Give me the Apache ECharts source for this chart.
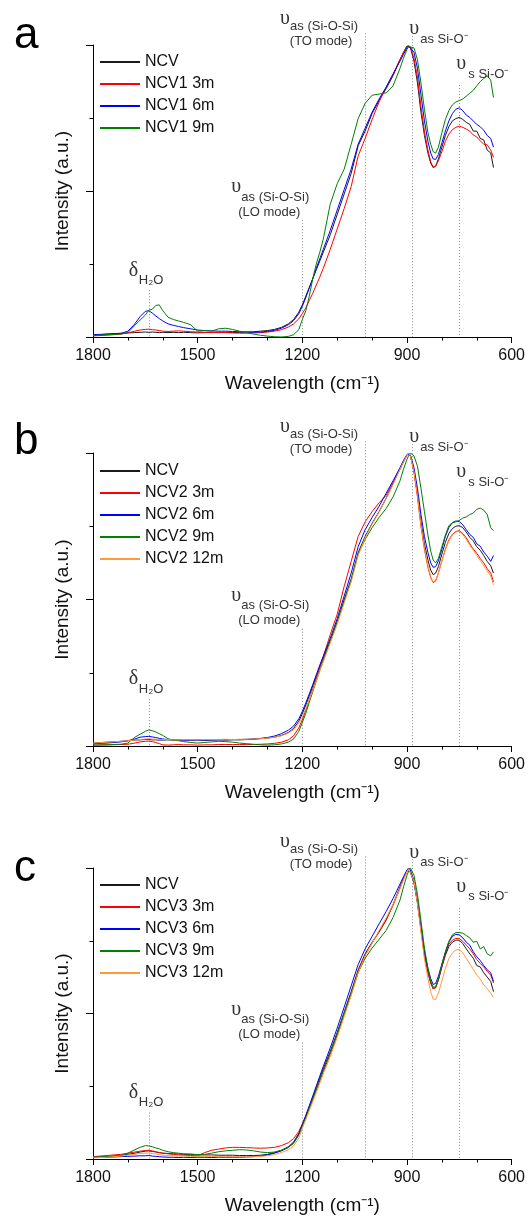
<!DOCTYPE html>
<html><head><meta charset="utf-8">
<script src="https://cdn.jsdelivr.net/npm/echarts@6/dist/echarts.min.js"></script>
<style>html,body{margin:0;padding:0;background:#fff}#c{width:528px;height:1216px}</style>
</head><body><div id="c"></div>
<script>
// wavenumber grid (cm-1)
const wn = [1800,1760,1720,1700,1680,1665,1650,1640,1630,1620,
1610,1600,1585,1570,1555,1540,1520,1500,1480,1460,
1440,1420,1400,1380,1360,1340,1320,1300,1280,1260,
1240,1225,1210,1200,1190,1180,1170,1160,1150,1140,
1120,1100,1080,1060,1040,1020,1000,980,960,940,
920,910,900,895,890,880,870,860,850,840,
832,825,818,810,800,790,780,770,760,750,
740,730,720,710,700,690,680,670,660,652];

// Panel a
const aNCV = [0.006,0.010,0.013,0.014,0.015,0.016,0.017,0.016,0.017,0.016,
0.015,0.016,0.015,0.016,0.015,0.016,0.015,0.014,0.015,0.016,
0.015,0.016,0.015,0.016,0.017,0.018,0.020,0.022,0.026,0.033,
0.045,0.060,0.085,0.110,0.140,0.170,0.200,0.230,0.260,0.290,
0.350,0.420,0.490,0.560,0.655,0.705,0.765,0.810,0.850,0.895,
0.950,0.975,0.997,1.000,0.990,0.945,0.870,0.770,0.690,0.630,
0.595,0.580,0.585,0.610,0.650,0.690,0.720,0.740,0.748,0.752,
0.745,0.735,0.728,0.705,0.705,0.680,0.675,0.640,0.630,0.580];
const aNCV1_3m = [0.004,0.006,0.010,0.014,0.020,0.024,0.026,0.027,0.025,0.024,
0.022,0.020,0.019,0.020,0.021,0.020,0.018,0.017,0.016,0.015,
0.016,0.015,0.014,0.013,0.013,0.014,0.015,0.017,0.020,0.025,
0.034,0.045,0.062,0.080,0.100,0.125,0.150,0.178,0.205,0.235,
0.300,0.370,0.440,0.515,0.620,0.680,0.745,0.805,0.855,0.900,
0.950,0.975,0.995,1.000,0.993,0.955,0.890,0.790,0.705,0.640,
0.600,0.582,0.585,0.603,0.635,0.670,0.695,0.710,0.718,0.722,
0.718,0.712,0.705,0.692,0.685,0.672,0.660,0.658,0.640,0.615];
const aNCV1_6m = [0.008,0.010,0.012,0.020,0.045,0.070,0.088,0.090,0.082,0.072,
0.063,0.055,0.045,0.040,0.036,0.032,0.028,0.024,0.022,0.021,
0.020,0.020,0.019,0.018,0.017,0.016,0.017,0.019,0.023,0.030,
0.042,0.056,0.080,0.105,0.135,0.168,0.200,0.235,0.268,0.300,
0.365,0.435,0.505,0.575,0.660,0.715,0.770,0.815,0.855,0.900,
0.945,0.968,0.990,0.998,1.000,0.975,0.920,0.830,0.740,0.670,
0.630,0.610,0.608,0.625,0.665,0.705,0.740,0.765,0.780,0.785,
0.775,0.760,0.752,0.740,0.728,0.720,0.708,0.690,0.680,0.650];
const aNCV1_9m = [0.005,0.008,0.010,0.015,0.040,0.058,0.075,0.092,0.095,0.108,
0.110,0.090,0.068,0.060,0.055,0.050,0.042,0.020,0.022,0.020,
0.028,0.030,0.026,0.020,0.015,0.010,0.006,0.003,0.001,0.000,
0.002,0.008,0.025,0.060,0.090,0.140,0.200,0.250,0.290,0.335,
0.455,0.525,0.575,0.660,0.748,0.800,0.828,0.832,0.836,0.860,
0.920,0.955,0.985,0.995,1.000,0.990,0.950,0.870,0.780,0.700,
0.660,0.635,0.630,0.650,0.700,0.745,0.775,0.795,0.805,0.810,
0.815,0.825,0.835,0.845,0.860,0.875,0.885,0.895,0.880,0.820];

// Panel b
const bNCV = [0.010,0.013,0.016,0.018,0.020,0.021,0.022,0.022,0.021,0.021,
0.020,0.020,0.021,0.020,0.020,0.021,0.020,0.020,0.019,0.020,
0.021,0.020,0.021,0.021,0.022,0.023,0.025,0.027,0.030,0.036,
0.046,0.060,0.085,0.110,0.140,0.172,0.205,0.238,0.270,0.300,
0.360,0.425,0.500,0.570,0.660,0.715,0.760,0.800,0.845,0.895,
0.945,0.970,0.993,1.000,0.990,0.940,0.860,0.765,0.690,0.635,
0.600,0.585,0.590,0.612,0.655,0.695,0.725,0.742,0.750,0.752,
0.745,0.730,0.712,0.700,0.680,0.668,0.650,0.630,0.615,0.590];
const bNCV2_3m = [0.003,0.004,0.005,0.006,0.010,0.014,0.016,0.017,0.015,0.012,
0.008,0.004,0.003,0.004,0.005,0.004,0.004,0.003,0.004,0.004,
0.005,0.005,0.005,0.005,0.005,0.005,0.006,0.007,0.009,0.013,
0.021,0.035,0.062,0.090,0.122,0.158,0.195,0.232,0.270,0.305,
0.380,0.450,0.545,0.630,0.715,0.765,0.800,0.830,0.855,0.900,
0.948,0.972,0.993,1.000,0.990,0.935,0.850,0.750,0.672,0.610,
0.575,0.558,0.563,0.590,0.632,0.672,0.703,0.722,0.732,0.735,
0.725,0.710,0.690,0.672,0.658,0.640,0.625,0.605,0.590,0.560];
const bNCV2_6m = [0.008,0.010,0.014,0.018,0.024,0.030,0.032,0.033,0.031,0.029,
0.026,0.024,0.022,0.021,0.020,0.020,0.019,0.020,0.020,0.021,
0.021,0.022,0.022,0.022,0.023,0.024,0.026,0.029,0.034,0.042,
0.054,0.068,0.093,0.118,0.147,0.178,0.210,0.243,0.276,0.306,
0.367,0.435,0.512,0.590,0.680,0.738,0.780,0.818,0.862,0.905,
0.950,0.975,0.995,1.000,0.993,0.950,0.880,0.790,0.715,0.660,
0.625,0.610,0.612,0.632,0.672,0.715,0.745,0.762,0.768,0.766,
0.755,0.738,0.722,0.712,0.690,0.682,0.662,0.648,0.630,0.650];
const bNCV2_9m = [0.003,0.004,0.006,0.010,0.030,0.040,0.050,0.055,0.052,0.048,
0.042,0.036,0.025,0.020,0.018,0.015,0.012,0.010,0.012,0.014,
0.016,0.015,0.013,0.010,0.008,0.006,0.004,0.003,0.004,0.007,
0.013,0.024,0.050,0.080,0.112,0.150,0.185,0.222,0.258,0.292,
0.360,0.425,0.495,0.565,0.655,0.705,0.745,0.780,0.810,0.850,
0.905,0.945,0.978,0.992,1.000,0.990,0.955,0.880,0.800,0.720,
0.665,0.635,0.625,0.640,0.680,0.720,0.752,0.762,0.765,0.770,
0.778,0.782,0.790,0.795,0.808,0.812,0.805,0.790,0.745,0.735];
const bNCV2_12m = [0.010,0.013,0.016,0.018,0.020,0.022,0.024,0.025,0.024,0.023,
0.022,0.022,0.022,0.021,0.021,0.022,0.021,0.021,0.022,0.022,
0.022,0.023,0.022,0.023,0.023,0.024,0.025,0.027,0.030,0.035,
0.044,0.055,0.078,0.100,0.128,0.158,0.190,0.222,0.255,0.287,
0.350,0.415,0.488,0.560,0.650,0.710,0.757,0.798,0.843,0.893,
0.945,0.970,0.993,1.000,0.990,0.937,0.855,0.755,0.675,0.615,
0.578,0.560,0.566,0.590,0.632,0.670,0.700,0.720,0.730,0.733,
0.722,0.705,0.685,0.668,0.650,0.633,0.615,0.598,0.580,0.550];

// Panel c
const cNCV = [0.006,0.008,0.012,0.016,0.020,0.024,0.027,0.028,0.026,0.024,
0.022,0.020,0.019,0.018,0.017,0.016,0.016,0.014,0.014,0.014,
0.013,0.013,0.013,0.012,0.012,0.012,0.013,0.016,0.022,0.030,
0.042,0.058,0.088,0.118,0.148,0.180,0.212,0.245,0.278,0.310,
0.370,0.435,0.505,0.575,0.650,0.705,0.745,0.780,0.820,0.875,
0.935,0.965,0.990,1.000,0.995,0.950,0.880,0.790,0.700,0.640,
0.605,0.585,0.590,0.615,0.660,0.700,0.730,0.745,0.752,0.752,
0.740,0.722,0.705,0.690,0.665,0.660,0.640,0.625,0.610,0.575];
const cNCV3_3m = [0.008,0.012,0.016,0.020,0.024,0.027,0.029,0.030,0.028,0.025,
0.022,0.020,0.018,0.016,0.014,0.013,0.012,0.011,0.022,0.030,
0.034,0.038,0.040,0.040,0.039,0.038,0.037,0.038,0.040,0.046,
0.056,0.070,0.095,0.120,0.146,0.175,0.205,0.237,0.268,0.300,
0.360,0.425,0.495,0.565,0.645,0.700,0.742,0.782,0.822,0.872,
0.930,0.962,0.988,0.998,1.000,0.960,0.890,0.800,0.710,0.645,
0.605,0.585,0.588,0.615,0.662,0.705,0.738,0.752,0.758,0.758,
0.748,0.735,0.722,0.705,0.685,0.672,0.660,0.645,0.632,0.605];
const cNCV3_6m = [0.005,0.006,0.008,0.009,0.010,0.011,0.011,0.012,0.010,0.009,
0.008,0.007,0.006,0.006,0.005,0.006,0.005,0.006,0.006,0.005,
0.006,0.006,0.006,0.006,0.007,0.008,0.010,0.014,0.020,0.028,
0.040,0.056,0.086,0.118,0.150,0.183,0.217,0.251,0.285,0.318,
0.382,0.450,0.522,0.595,0.668,0.722,0.765,0.808,0.850,0.895,
0.945,0.970,0.993,1.000,0.993,0.952,0.883,0.795,0.712,0.655,
0.620,0.600,0.603,0.628,0.670,0.710,0.745,0.765,0.772,0.770,
0.760,0.745,0.735,0.712,0.695,0.682,0.665,0.650,0.640,0.610];
const cNCV3_9m = [0.006,0.008,0.012,0.020,0.032,0.040,0.046,0.045,0.042,0.038,
0.035,0.030,0.025,0.022,0.020,0.018,0.017,0.015,0.016,0.020,
0.025,0.028,0.030,0.032,0.031,0.028,0.024,0.022,0.024,0.030,
0.040,0.054,0.082,0.112,0.142,0.174,0.206,0.240,0.272,0.304,
0.365,0.430,0.500,0.568,0.640,0.690,0.725,0.755,0.785,0.830,
0.890,0.935,0.975,0.990,1.000,0.975,0.910,0.820,0.725,0.655,
0.612,0.590,0.592,0.618,0.668,0.712,0.748,0.770,0.778,0.778,
0.776,0.768,0.760,0.745,0.748,0.722,0.730,0.705,0.698,0.712];
const cNCV3_12m = [0.004,0.006,0.010,0.013,0.016,0.019,0.020,0.020,0.019,0.017,
0.015,0.013,0.012,0.011,0.010,0.010,0.009,0.009,0.009,0.009,
0.008,0.008,0.008,0.008,0.008,0.008,0.009,0.011,0.015,0.022,
0.032,0.045,0.072,0.105,0.135,0.166,0.197,0.228,0.260,0.292,
0.352,0.418,0.490,0.562,0.640,0.698,0.742,0.785,0.828,0.875,
0.930,0.960,0.988,0.998,1.000,0.955,0.878,0.780,0.688,0.620,
0.575,0.550,0.548,0.570,0.612,0.655,0.688,0.708,0.718,0.720,
0.708,0.690,0.670,0.652,0.632,0.618,0.598,0.585,0.570,0.555];

const namesA = ['NCV','NCV1 3m','NCV1 6m','NCV1 9m'];
const namesB = ['NCV','NCV2 3m','NCV2 6m','NCV2 9m','NCV2 12m'];
const namesC = ['NCV','NCV3 3m','NCV3 6m','NCV3 9m','NCV3 12m'];
const panelLetters = ['a','b','c'];
const xTitle = 'Wavelength (cm\u207B\u00B9)';
const yTitle = 'Intensity (a.u.)';

// annotation marks: wavenumber of dotted line, top of line (intensity)
const annotWn = [1640, 1200, 1020, 885, 750];
const annotTop = [0.16, 0.40, 1.04, 1.03, 0.863];

const panels = [
  {names: namesA, data: [aNCV, aNCV1_3m, aNCV1_6m, aNCV1_9m]},
  {names: namesB, data: [bNCV, bNCV2_3m, bNCV2_6m, bNCV2_9m, bNCV2_12m]},
  {names: namesC, data: [cNCV, cNCV3_3m, cNCV3_6m, cNCV3_9m, cNCV3_12m]}
];

// ---- styling / layout ----
const FONT = "'Liberation Sans', Arial, Helvetica, sans-serif";
const SERIF = "'Liberation Serif', 'Times New Roman', serif";
const colors = ['#1a1a1a','#ff0000','#0000ff','#008000','#ff9a3c'];
const gridTops = [45, 453, 868];
const gridHeights = [292, 293, 292];
const legendTops = [54, 463, 877];
const letterPos = [[14, 36], [14, 442], [14, 869]];

const grids = [], xAxes = [], yAxes = [], legends = [], series = [];
panels.forEach((p, i) => {
  grids.push({left: 93, width: 420, top: gridTops[i], height: gridHeights[i]});
  xAxes.push({
    type: 'value', gridIndex: i, min: 600, max: 1800, interval: 300, inverse: true,
    axisLine: {lineStyle: {color: '#000', width: 1}},
    axisTick: {length: 6, lineStyle: {color: '#000'}},
    minorTick: {show: true, splitNumber: 3, length: 3.5, lineStyle: {color: '#000'}},
    splitLine: {show: false},
    axisLabel: {fontSize: 16, fontFamily: FONT, color: '#111', margin: 11, formatter: v => String(v)},
    name: xTitle, nameLocation: 'middle', nameGap: 37,
    nameTextStyle: {fontSize: 19, fontFamily: FONT, color: '#111'}
  });
  yAxes.push({
    type: 'value', gridIndex: i, min: 0, max: 1, interval: 0.5,
    axisLine: {show: true, lineStyle: {color: '#000', width: 1}},
    axisTick: {show: true, length: 7, lineStyle: {color: '#000'}},
    minorTick: {show: true, splitNumber: 2, length: 3.5, lineStyle: {color: '#000'}},
    splitLine: {show: false},
    axisLabel: {show: false},
    name: yTitle, nameLocation: 'middle', nameGap: 21,
    nameTextStyle: {fontSize: 19, fontFamily: FONT, color: '#111'}
  });
  legends.push({
    orient: 'vertical', left: 100, top: legendTops[i], padding: 0,
    icon: 'rect', itemWidth: 40, itemHeight: 2, itemGap: 6,
    textStyle: {fontSize: 16, fontFamily: FONT, color: '#111', lineHeight: 16},
    data: p.names, selectedMode: false
  });
  p.data.forEach((arr, k) => {
    series.push({
      type: 'line', name: p.names[k], xAxisIndex: i, yAxisIndex: i,
      symbol: 'none', showSymbol: false, animation: false, silent: true,
      lineStyle: {width: 1, color: colors[k]}, itemStyle: {color: colors[k]},
      data: wn.map((w, j) => [w, arr[j]])
    });
  });
});

const chart = echarts.init(document.getElementById('c'), null, {renderer: 'canvas'});
chart.setOption({
  animation: false, backgroundColor: '#fff',
  grid: grids, xAxis: xAxes, yAxis: yAxes, legend: legends, series: series
});

// annotation label pieces (offsets relative to top of dotted line)
const sub = '13px ' + FONT;
const gly = '20px ' + SERIF;
const annotParts = [
  [{t: '\u03B4', dx: -20, dy: -20, f: gly}, {t: 'H\u2082O', dx: -10, dy: -10, f: sub}],
  [{t: '\u03C5', dx: -71, dy: -33, f: gly}, {t: 'as (Si-O-Si)', dx: -61, dy: -23, f: sub}, {t: '(LO mode)', dx: -33, dy: -8, f: sub, al: 'center'}],
  [{t: '\u03C5', dx: -85, dy: -15, f: gly}, {t: 'as (Si-O-Si)', dx: -75, dy: -7, f: sub}, {t: '(TO mode)', dx: -44, dy: 8, f: sub, al: 'center'}],
  [{t: '\u03C5', dx: -3, dy: -7, f: gly}, {t: 'as Si-O\u207B', dx: 8, dy: 3, f: sub}],
  [{t: '\u03C5', dx: -3, dy: -21, f: gly}, {t: 's Si-O\u207B', dx: 9, dy: -11, f: sub}]
];

const g = [];
panels.forEach((p, i) => {
  annotWn.forEach((w, k) => {
    const top = chart.convertToPixel({gridIndex: i}, [w, annotTop[k]]);
    const bot = chart.convertToPixel({gridIndex: i}, [w, 0]);
    const lx = Math.round(top[0]) + 0.5;
    g.push({type: 'line', silent: true, z: 1,
      shape: {x1: lx, y1: top[1], x2: lx, y2: bot[1]},
      style: {stroke: '#8a8a8a', lineWidth: 1, lineDash: [1, 2]}});
    annotParts[k].forEach(pt => {
      g.push({type: 'text', silent: true, z: 10, x: top[0] + pt.dx, y: top[1] + pt.dy,
        style: {text: pt.t, font: pt.f, fill: '#333', align: pt.al || 'left', verticalAlign: 'middle'}});
    });
  });
  g.push({type: 'text', silent: true, z: 10, x: letterPos[i][0], y: letterPos[i][1],
    style: {text: panelLetters[i], font: '44px ' + FONT, fill: '#000', align: 'left', verticalAlign: 'middle'}});
});
chart.setOption({graphic: g});
</script>
</body></html>
